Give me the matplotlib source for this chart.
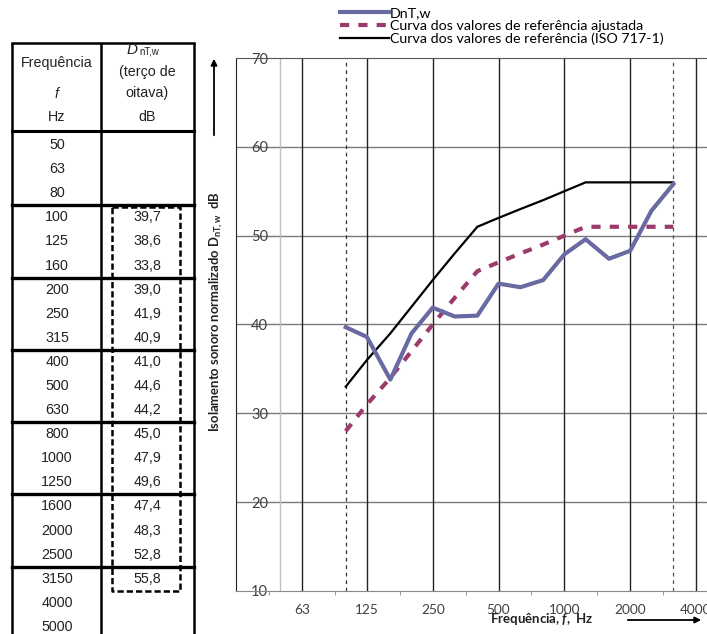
import matplotlib
matplotlib.use('Agg')
import matplotlib.pyplot as plt
from matplotlib.ticker import FixedLocator, NullFormatter

# Frequências da tabela (terço de oitava, Hz)
freq_tabela = [50, 63, 80, 100, 125, 160, 200, 250, 315, 400, 500, 630,
               800, 1000, 1250, 1600, 2000, 2500, 3150, 4000, 5000]

# Frequências com medição (100 Hz a 3150 Hz)
freq_medida = [100, 125, 160, 200, 250, 315, 400, 500, 630,
               800, 1000, 1250, 1600, 2000, 2500, 3150]

# DnT,w medido (dB)
dntw = [39.7, 38.6, 33.8, 39.0, 41.9, 40.9, 41.0, 44.6, 44.2,
        45.0, 47.9, 49.6, 47.4, 48.3, 52.8, 55.8]

# Curva de referência ISO 717-1
ref_iso = [33, 36, 39, 42, 45, 48, 51, 52, 53, 54, 55, 56, 56, 56, 56, 56]

# Curva de referência ajustada (deslocada -5 dB)
ref_ajustada = [28, 31, 34, 37, 40, 43, 46, 47, 48, 49, 50, 51, 51, 51, 51, 51]

# Eixos
ticks_freq = [63, 125, 250, 500, 1000, 2000, 4000]
ticks_db = [10, 20, 30, 40, 50, 60, 70]

plt.rcParams['font.family'] = ['Lato', 'DejaVu Sans']
plt.rcParams['mathtext.fontset'] = 'custom'
plt.rcParams['mathtext.rm'] = 'Lato:bold'
plt.rcParams['mathtext.it'] = 'Lato:italic:bold'
plt.rcParams['mathtext.bf'] = 'Lato:bold'

W, H = 707, 634
fig = plt.figure(figsize=(W / 100, H / 100), dpi=100)

# ---------------- gráfico ----------------
ax = fig.add_axes([236 / W, 1 - 591 / H, 471 / W, 533 / H])
ax.set_xscale('log', base=2)
ax.set_xlim(31.5, 4490)
ax.set_ylim(10, 70)

for y in ticks_db[1:-1]:
    ax.axhline(y, color='#7a7a7a', lw=1.0, zorder=1)
for f in ticks_freq:
    ax.axvline(f, color='#222222', lw=1.0, zorder=1)
ax.axvline(50, color='#c0c0c0', lw=1.0, zorder=1)
ax.axvline(freq_medida[0], color='#333333', lw=0.9, ls=(0, (3, 3)), zorder=1)
ax.axvline(freq_medida[-1], color='#555555', lw=0.9, ls=(0, (3, 3)), zorder=1)

l1, = ax.plot(freq_medida, dntw, color='#6a6aa2', lw=3.0, zorder=3,
              label='DnT,w')
l2, = ax.plot(freq_medida, ref_ajustada, color='#9b3a6b', lw=3.0,
              ls=(0, (2.2, 2.2)), zorder=2,
              label='Curva dos valores de referência ajustada')
l3, = ax.plot(freq_medida, ref_iso, color='black', lw=1.6, zorder=2,
              label='Curva dos valores de referência (ISO 717-1)')

ax.xaxis.set_major_locator(FixedLocator(ticks_freq))
ax.set_xticklabels([str(f) for f in ticks_freq])
meios = [f * 2 ** 0.5 for f in [31.5] + ticks_freq[:-1]]
ax.xaxis.set_minor_locator(FixedLocator(meios))
ax.xaxis.set_minor_formatter(NullFormatter())
ax.tick_params(axis='x', which='major', length=0, pad=9,
               labelsize=9.8, labelcolor='#404040')
ax.tick_params(axis='x', which='minor', length=3, color='#888888',
               direction='out')

ax.set_yticks(ticks_db)
ax.tick_params(axis='y', length=0, pad=-23, labelsize=10.5,
               labelcolor='#404040')
for t in ax.get_yticklabels():
    t.set_zorder(5)

ax.spines['right'].set_visible(False)
ax.spines['top'].set_color('#555555')
ax.spines['bottom'].set_color('#888888')
ax.spines['left'].set_color('#222222')

fig.legend(handles=[l1, l2, l3], loc='upper left',
           bbox_to_anchor=(340 / W, 1 - 7 / H), frameon=False,
           fontsize=10.3, handlelength=3.4, handletextpad=0.1,
           labelspacing=0.06, borderpad=0, borderaxespad=0)

# ---------------- tabela ----------------
tab = fig.add_axes([0, 0, 1, 1])
tab.set_xlim(0, W)
tab.set_ylim(H, 0)
tab.axis('off')
tab.patch.set_visible(False)

x_esq, x_div, x_dir = 12, 101, 194
y_topo, y_cab = 43, 131
passo, y0 = 24.1, 145

for x in (x_esq, x_div, x_dir):
    tab.plot([x, x], [y_topo, H + 5], color='black', lw=1.8,
             solid_capstyle='butt')
tab.plot([x_esq, x_dir], [y_topo, y_topo], color='black', lw=1.8)
tab.plot([x_esq, x_dir], [y_cab, y_cab], color='black', lw=2.2)
for k in range(1, 7):
    yy = y0 + (3 * k - 0.5) * passo
    tab.plot([x_esq, x_dir], [yy, yy], color='black', lw=2.4)

fonte_tab = ['Liberation Sans', 'DejaVu Sans']
cor_txt = '#222222'
fs = 10.3
xc1, xc2 = 57, 147
tab.text(xc1, 63, 'Frequência', ha='center', va='center', fontsize=fs,
         family=fonte_tab, color=cor_txt)
tab.text(xc1, 94, 'f', ha='center', va='center', fontsize=fs,
         family=fonte_tab, style='italic', color=cor_txt)
tab.text(xc1, 117, 'Hz', ha='center', va='center', fontsize=fs,
         family=fonte_tab, color=cor_txt)
tab.text(138, 50, 'D', ha='right', va='center', fontsize=11,
         family=fonte_tab, style='italic', color=cor_txt)
tab.text(139, 52, 'nT,w', ha='left', va='center', fontsize=7,
         family=fonte_tab, color=cor_txt)
tab.text(xc2, 72, '(terço de', ha='center', va='center', fontsize=fs,
         family=fonte_tab, color=cor_txt)
tab.text(xc2, 93, 'oitava)', ha='center', va='center', fontsize=fs,
         family=fonte_tab, color=cor_txt)
tab.text(xc2, 117, 'dB', ha='center', va='center', fontsize=fs,
         family=fonte_tab, color=cor_txt)

valores = dict(zip(freq_medida, dntw))
for i, f in enumerate(freq_tabela):
    yy = y0 + i * passo
    tab.text(xc1, yy, str(f), ha='center', va='center', fontsize=fs,
             family=fonte_tab, color=cor_txt)
    if f in valores:
        txt = f'{valores[f]:.1f}'.replace('.', ',')
        tab.text(xc2, yy, txt, ha='center', va='center', fontsize=fs,
                 family=fonte_tab, color=cor_txt)

# caixa tracejada à volta dos valores
i_ini = freq_tabela.index(freq_medida[0])
i_fim = freq_tabela.index(freq_medida[-1])
yb0 = y0 + (i_ini - 0.5) * passo + 2
yb1 = y0 + (i_fim + 0.5) * passo
tab.plot([112, 180, 180, 112, 112], [yb0, yb0, yb1, yb1, yb0],
         color='black', lw=1.8, ls=(0, (2.5, 1.2)), zorder=4)

# rótulos dos eixos e setas
tab.text(216, 312, r'Isolamento sonoro normalizado $\mathregular{D_{nT,w}}$  dB',
         rotation=90, ha='center', va='center', fontsize=9.4,
         fontweight='bold', color='#222222')
tab.annotate('', xy=(214, 56), xytext=(214, 138),
             arrowprops=dict(arrowstyle='-|>', lw=1.3, color='black',
                             mutation_scale=9))
tab.text(542, 619, r'Frequência, $\mathit{f}$,  Hz', ha='center',
         va='center', fontsize=9.5, fontweight='bold', color='#222222')
tab.annotate('', xy=(704, 620), xytext=(625, 620),
             arrowprops=dict(arrowstyle='-|>', lw=1.3, color='black',
                             mutation_scale=9))

plt.savefig('out.png', dpi=100)
plt.close()
